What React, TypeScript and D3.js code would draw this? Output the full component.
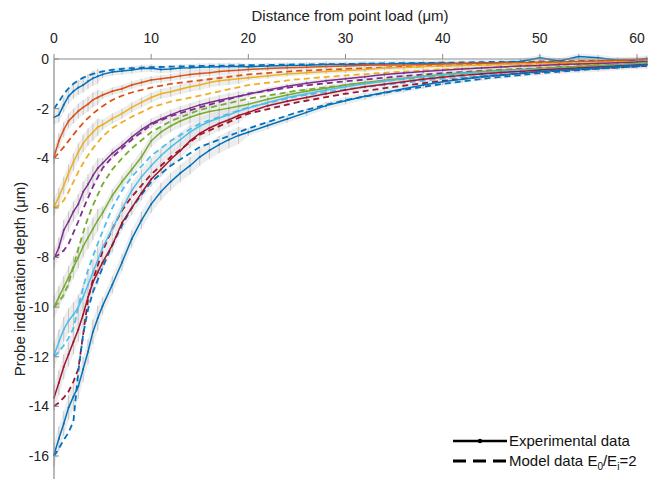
import React from "react";
import * as d3 from "d3";

// distance from point load (um) where the model curves were read
const xModel = [0, 0.5, 1, 1.5, 2, 2.5, 3, 3.5, 4, 5, 6, 7, 8, 10, 12, 15, 20, 25, 30, 35, 40, 45, 50, 55, 61];

// model depth (um), one array per applied load
const model2 = [-2.0, -1.72, -1.42, -1.18, -1.0, -0.86, -0.75, -0.67, -0.6, -0.5, -0.44, -0.4, -0.37, -0.33, -0.31, -0.28, -0.25, -0.22, -0.2, -0.17, -0.15, -0.12, -0.1, -0.08, -0.06];
const model4 = [-4.0, -3.78, -3.55, -3.3, -3.05, -2.8, -2.58, -2.38, -2.2, -1.9, -1.65, -1.48, -1.35, -1.15, -1.0, -0.86, -0.62, -0.48, -0.4, -0.33, -0.27, -0.22, -0.18, -0.14, -0.1];
const model6 = [-6.0, -5.9, -5.7, -5.35, -4.95, -4.55, -4.2, -3.88, -3.6, -3.12, -2.78, -2.55, -2.33, -1.95, -1.72, -1.48, -1.05, -0.82, -0.66, -0.53, -0.42, -0.34, -0.27, -0.21, -0.15];
const model8 = [-8.0, -7.88, -7.72, -7.45, -7.0, -6.55, -6.05, -5.6, -5.15, -4.4, -3.95, -3.6, -3.25, -2.65, -2.3, -1.95, -1.4, -1.1, -0.9, -0.72, -0.57, -0.46, -0.37, -0.29, -0.2];
const model10 = [-10.0, -9.8, -9.5, -9.05, -8.35, -7.65, -7.0, -6.4, -5.9, -5.05, -4.45, -4.0, -3.6, -2.95, -2.5, -2.05, -1.6, -1.28, -1.05, -0.85, -0.68, -0.55, -0.44, -0.35, -0.25];
const model12 = [-12.0, -11.8, -11.55, -11.25, -10.85, -10.0, -9.2, -8.5, -7.95, -6.95, -6.0, -5.3, -4.75, -3.9, -3.3, -2.6, -1.95, -1.5, -1.22, -1.0, -0.8, -0.64, -0.5, -0.4, -0.28];
const model14 = [-14.0, -13.85, -13.65, -13.4, -13.0, -12.5, -11.1, -9.7, -8.9, -7.75, -6.85, -6.1, -5.55, -4.65, -3.95, -3.05, -2.2, -1.75, -1.4, -1.12, -0.88, -0.68, -0.52, -0.4, -0.28];
const model16 = [-16.0, -15.7, -15.35, -15.05, -14.6, -12.6, -11.1, -10.1, -9.4, -8.4, -7.5, -6.7, -6.0, -4.95, -4.3, -3.55, -2.8, -2.15, -1.65, -1.3, -1.0, -0.76, -0.57, -0.42, -0.27];

// experimental points
const xExp = [0, 0.5, 1, 1.5, 2, 2.5, 3, 3.5, 4, 4.5, 5, 6, 7, 8, 9, 10, 11, 12, 13, 14, 15, 16, 17, 18, 19, 20, 22, 24, 26, 28, 30, 32, 34, 36, 38, 40, 42, 44, 46, 48, 50, 52, 54, 56, 58, 60, 61];

const exp2 = [-2.35, -2.25, -1.85, -1.5, -1.3, -1.15, -1.05, -0.9, -0.78, -0.7, -0.62, -0.52, -0.48, -0.44, -0.38, -0.37, -0.42, -0.4, -0.36, -0.35, -0.33, -0.32, -0.31, -0.3, -0.3, -0.31, -0.28, -0.26, -0.25, -0.22, -0.22, -0.2, -0.2, -0.18, -0.17, -0.16, -0.18, -0.15, -0.14, -0.1, 0.05, -0.08, 0.1, 0.05, -0.05, -0.03, 0.02];
const exp4 = [-3.95, -3.3, -2.85, -2.5, -2.3, -2.1, -1.95, -1.82, -1.65, -1.55, -1.45, -1.3, -1.2, -1.05, -0.95, -0.85, -0.8, -0.75, -0.68, -0.62, -0.58, -0.55, -0.5, -0.47, -0.45, -0.42, -0.38, -0.35, -0.33, -0.3, -0.28, -0.25, -0.24, -0.24, -0.22, -0.2, -0.18, -0.17, -0.16, -0.15, -0.12, -0.12, -0.1, -0.08, -0.06, -0.02, 0.0];
const exp6 = [-5.97, -5.55, -5.1, -4.6, -4.15, -3.75, -3.4, -3.15, -2.95, -2.75, -2.65, -2.4, -2.2, -1.95, -1.75, -1.55, -1.4, -1.32, -1.22, -1.12, -1.05, -0.95, -0.88, -0.84, -0.8, -0.76, -0.68, -0.6, -0.55, -0.5, -0.46, -0.42, -0.36, -0.34, -0.3, -0.28, -0.26, -0.24, -0.22, -0.2, -0.2, -0.18, -0.15, -0.14, -0.12, -0.1, -0.08];
const exp8 = [-8.05, -7.6, -6.9, -6.55, -6.15, -5.85, -5.35, -5.05, -4.7, -4.4, -4.2, -3.8, -3.5, -3.15, -2.85, -2.6, -2.42, -2.25, -2.1, -1.98, -1.85, -1.75, -1.66, -1.58, -1.5, -1.42, -1.25, -1.1, -0.98, -0.88, -0.8, -0.72, -0.62, -0.56, -0.5, -0.45, -0.4, -0.36, -0.32, -0.28, -0.26, -0.22, -0.2, -0.18, -0.15, -0.12, -0.1];
const exp10 = [-10.0, -9.6, -9.2, -8.8, -8.4, -8.0, -7.55, -7.2, -6.85, -6.5, -6.2, -5.5, -4.95, -4.45, -3.95, -3.3, -2.95, -2.7, -2.5, -2.35, -2.22, -2.12, -2.05, -1.98, -1.9, -1.82, -1.62, -1.45, -1.3, -1.18, -1.05, -0.95, -0.86, -0.78, -0.7, -0.62, -0.55, -0.5, -0.45, -0.42, -0.38, -0.33, -0.3, -0.26, -0.22, -0.18, -0.16];
const exp12 = [-11.95, -11.4, -10.9, -10.55, -10.3, -10.0, -9.6, -9.1, -8.6, -8.1, -7.6, -6.85, -6.05, -5.3, -4.75, -4.3, -3.9, -3.55, -3.25, -2.95, -2.7, -2.52, -2.38, -2.25, -2.1, -1.98, -1.75, -1.55, -1.4, -1.25, -1.12, -1.0, -0.9, -0.8, -0.72, -0.65, -0.58, -0.55, -0.5, -0.45, -0.42, -0.38, -0.36, -0.3, -0.26, -0.22, -0.2];
const exp14 = [-13.65, -13.05, -12.4, -11.9, -11.4, -10.9, -10.3, -9.6, -9.0, -8.6, -8.2, -7.5, -6.6, -6.0, -5.4, -4.85, -4.45, -4.05, -3.7, -3.3, -3.0, -2.78, -2.6, -2.45, -2.28, -2.15, -1.88, -1.7, -1.55, -1.4, -1.25, -1.12, -1.02, -0.92, -0.82, -0.74, -0.66, -0.6, -0.54, -0.5, -0.44, -0.4, -0.36, -0.32, -0.28, -0.24, -0.22];
const exp16 = [-15.95, -15.3, -14.7, -14.05, -13.6, -13.2, -12.5, -11.8, -11.0, -10.45, -9.95, -9.1, -8.2, -7.25, -6.5, -5.85, -5.35, -4.95, -4.6, -4.3, -3.95, -3.68, -3.45, -3.25, -3.08, -2.95, -2.68, -2.42, -2.15, -1.88, -1.68, -1.5, -1.35, -1.2, -1.05, -0.92, -0.82, -0.72, -0.64, -0.58, -0.5, -0.45, -0.4, -0.36, -0.3, -0.26, -0.24];

// error bar half-width (um): x < 5, 5 <= x < 20, x >= 20
const err2 = [0.3, 0.15, 0.12];
const err4 = [0.3, 0.15, 0.1];
const err6 = [0.35, 0.2, 0.1];
const err8 = [0.4, 0.2, 0.1];
const err10 = [0.45, 0.25, 0.12];
const err12 = [0.5, 0.3, 0.12];
const err14 = [0.5, 0.3, 0.12];
const err16 = [0.5, 0.35, 0.15];

const modelSeries = [model2, model4, model6, model8, model10, model12, model14, model16];
const expSeries = [exp2, exp4, exp6, exp8, exp10, exp12, exp14, exp16];
const errSeries = [err2, err4, err6, err8, err10, err12, err14, err16];

const xTicks = [0, 10, 20, 30, 40, 50, 60];
const yTicks = [0, -2, -4, -6, -8, -10, -12, -14, -16];

const colors = ["#0072BD", "#D95319", "#EDB120", "#7E2F8E", "#77AC30", "#4DBEEE", "#A2142F", "#0072BD"];

const font = "Liberation Sans, Arial, sans-serif";

function errAt(e: number[], xv: number) {
  return xv < 5 ? e[0] : xv < 20 ? e[1] : e[2];
}

export default function App() {
  const W = 648;
  const H = 479;
  const x = d3.scaleLinear().domain([0, 60]).range([54, 637]);
  const y = d3.scaleLinear().domain([0, -16]).range([59, 456]);

  const line = d3
    .line<[number, number]>()
    .x(d => x(d[0]))
    .y(d => y(d[1]));

  const band = d3
    .area<[number, number, number]>()
    .x(d => x(d[0]))
    .y0(d => y(d[1] - d[2]))
    .y1(d => y(d[1] + d[2]));

  return (
    <svg
      width={W}
      height={H}
      style={{ position: "absolute", left: 0, top: 0, display: "block", background: "#fff" }}
      fontFamily={font}
    >
      {/* error bars */}
      <g>
        {expSeries.map((s, i) => {
          const pts = s.map((v, j) => [xExp[j], v, errAt(errSeries[i], xExp[j])] as [number, number, number]);
          return (
            <g key={"e" + i}>
              <path d={band(pts) || ""} fill="#dedede" fillOpacity={0.55} />
              {pts.map((p, j) => (
                <line
                  key={j}
                  x1={x(p[0])}
                  x2={x(p[0])}
                  y1={y(p[1] - p[2])}
                  y2={y(p[1] + p[2])}
                  stroke="#c6c6c6"
                  strokeWidth={1}
                />
              ))}
            </g>
          );
        })}
      </g>

      {/* model curves */}
      {modelSeries.map((s, i) => (
        <path
          key={"m" + i}
          d={line(s.map((v, j) => [xModel[j], v] as [number, number])) || ""}
          fill="none"
          stroke={colors[i]}
          strokeWidth={1.8}
          strokeDasharray="6,4"
        />
      ))}

      {/* experimental curves */}
      {expSeries.map((s, i) => (
        <g key={"x" + i}>
          <path
            d={line(s.map((v, j) => [xExp[j], v] as [number, number])) || ""}
            fill="none"
            stroke={colors[i]}
            strokeWidth={1.5}
          />
          {s.map((v, j) => (
            <circle key={j} cx={x(xExp[j])} cy={y(v)} r={1} fill={colors[i]} />
          ))}
        </g>
      ))}

      {/* axes */}
      <line x1={x(0)} x2={W} y1={y(0)} y2={y(0)} stroke="#8a8a8a" strokeWidth={1.2} />
      <line x1={x(0)} x2={x(0)} y1={y(0)} y2={H} stroke="#8a8a8a" strokeWidth={1.2} />
      {xTicks.map(t => (
        <g key={"xt" + t}>
          <line x1={x(t)} x2={x(t)} y1={y(0)} y2={y(0) - 5} stroke="#8a8a8a" />
          <text x={x(t)} y={43} fontSize={14} textAnchor="middle" fill="#222">
            {t}
          </text>
        </g>
      ))}
      {yTicks.map(t => (
        <g key={"yt" + t}>
          <line x1={x(0)} x2={x(0) + 5} y1={y(t)} y2={y(t)} stroke="#8a8a8a" />
          <text x={49} y={y(t)} dy="0.35em" fontSize={14} textAnchor="end" fill="#222">
            {t}
          </text>
        </g>
      ))}
      <text x={350} y={21} fontSize={15} textAnchor="middle" fill="#222">
        Distance from point load (μm)
      </text>
      <text
        transform={`translate(25,${279}) rotate(-90)`}
        fontSize={15}
        textAnchor="middle"
        fill="#222"
      >
        Probe indentation depth (μm)
      </text>

      {/* legend */}
      <g>
        <line x1={453} x2={507} y1={441} y2={441} stroke="#000" strokeWidth={2.6} />
        <circle cx={480} cy={441} r={2.2} fill="#000" />
        <text x={509} y={441} dy="0.35em" fontSize={15} fill="#111">
          Experimental data
        </text>
        <line x1={453} x2={507} y1={461} y2={461} stroke="#000" strokeWidth={2.8} strokeDasharray="13,7" />
        <text x={509} y={461} dy="0.35em" fontSize={15} fill="#111">
          Model data E
          <tspan fontSize={10} dy={4}>0</tspan>
          <tspan dy={-4}>/E</tspan>
          <tspan fontSize={10} dy={4}>i</tspan>
          <tspan dy={-4}>=2</tspan>
        </text>
      </g>
    </svg>
  );
}
